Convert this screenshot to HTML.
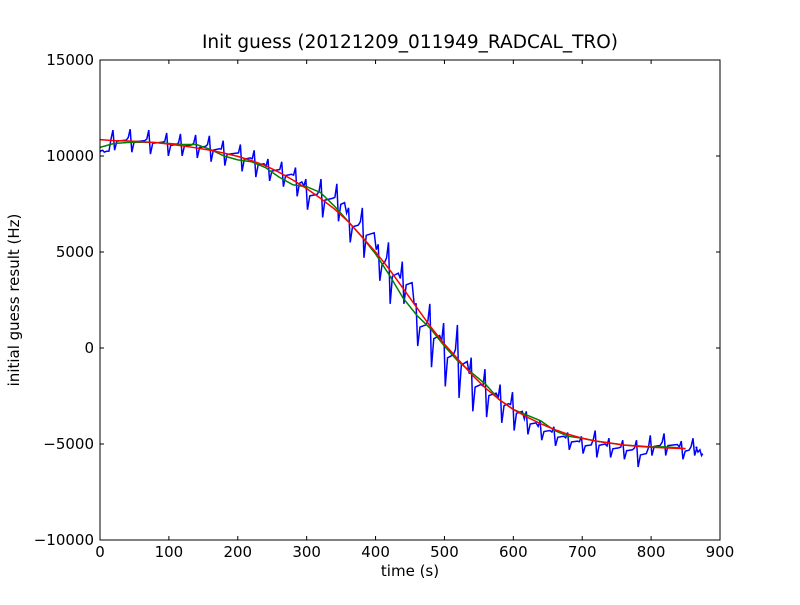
<!DOCTYPE html>
<html><head><meta charset="utf-8"><style>
body{margin:0;background:#fff;}
svg text{font-family:"DejaVu Sans","Liberation Sans",sans-serif;}
</style></head><body>
<svg id="chart" width="800" height="600" xmlns="http://www.w3.org/2000/svg">
<rect width="800" height="600" fill="#fff"/>
<text x="410" y="48" font-size="18.5" text-anchor="middle">Init guess (20121209_011949_RADCAL_TRO)</text>
<text x="410" y="576" font-size="15" text-anchor="middle">time (s)</text>
<text transform="translate(19,300) rotate(-90)" font-size="15" text-anchor="middle">initial guess result (Hz)</text>
<g id="ticks"></g>
<g id="series"></g>
<rect x="100" y="60" width="620" height="480" fill="none" stroke="#000" stroke-width="1"/>
</svg>
<script>
const xTicks=[0,100,200,300,400,500,600,700,800,900];
const yTicks=[-10000,-5000,0,5000,10000,15000];
const fitT=[0,20,40,60,80,100,120,140,160,180,200,220,240,260,280,300,320,340,360,380,400,420,440,460,480,500,520,540,560,580,600,620,640,660,680,700,720,740,760,780,800,820,840,850];
const fitV=[10850,10800,10780,10750,10700,10620,10530,10420,10300,10150,9980,9760,9500,9150,8750,8300,7800,7250,6600,5800,5000,4100,3100,2100,1100,200,-600,-1400,-2100,-2700,-3200,-3600,-3950,-4250,-4500,-4700,-4850,-4950,-5050,-5120,-5170,-5200,-5230,-5240];
const smoothV=[10450,10650,10700,10720,10700,10650,10600,10600,10350,10000,9800,9700,9400,8900,8500,8400,8100,7400,6600,5800,4900,3800,2600,1700,1000,100,-700,-1300,-1900,-2700,-3200,-3500,-3800,-4300,-4600,-4700,-4850,-4950,-5050,-5100,-5150,-5150,-5200,-5250];
const peakT=[5,20,45,72,98,118,140,160,180,205,225,245,265,285,300,322,345,362,382,405,420,440,460,480,500,520,540,560,582,600,620,640,660,680,700,720,740,760,780,800,820,845,862,872];
const peakV=[10300,11350,11400,11350,11200,11150,11100,11050,10800,10600,10300,9850,9700,9400,8800,8800,8550,7300,7300,5400,5500,4500,2300,2300,1300,1200,-500,-1100,-1900,-2300,-3300,-3800,-4100,-4400,-4600,-4300,-4700,-4800,-4800,-4550,-4450,-4850,-4700,-5300];
const lowV=[10200,10300,10200,10100,10000,10000,9900,9700,9500,9200,8900,8700,8400,7900,7200,6800,6600,5500,4700,3500,2300,2300,100,-1000,-2000,-2600,-3300,-3600,-3900,-4300,-4500,-4800,-5100,-5300,-5500,-5700,-5700,-5800,-6200,-5600,-5600,-5800,-5600,-5600];
const X0=100,W=620,Y0=60,H=480;
function xs(t){return X0+t/900*W;}
function ys(v){return Y0+(15000-v)/25000*H;}
const NS="http://www.w3.org/2000/svg";
const tg=document.getElementById('ticks');
const sg=document.getElementById('series');
function mk(tag,attrs,parent){const e=document.createElementNS(NS,tag);for(const k in attrs)e.setAttribute(k,attrs[k]);parent.appendChild(e);return e;}
xTicks.forEach(t=>{
  const x=xs(t);
  const a=mk('line',{x1:x,x2:x,y1:540,y2:536,stroke:'#000'},tg);
  
  
  const b=mk('line',{x1:x,x2:x,y1:60,y2:64,stroke:'#000'},tg);
  
  
  const l=mk('text',{x:x,y:557,'font-size':15,'text-anchor':'middle'},tg);
  l.textContent=t;
  
  
});
yTicks.forEach(v=>{
  const y=ys(v);
  const a=mk('line',{x1:100,x2:104,y1:y,y2:y,stroke:'#000'},tg);
  
  
  const b=mk('line',{x1:716,x2:720,y1:y,y2:y,stroke:'#000'},tg);
  
  
  const l=mk('text',{x:94,y:y+5,'font-size':15,'text-anchor':'end'},tg);
  l.textContent=v<0?'\u2212'+(-v):String(v);
  
  
});
let pts=[[0,10200]];
for(let i=0;i<peakT.length;i++){
  const lo=lowV[i],hi=peakV[i];
  const prevLo=i>0?lowV[i-1]:lo;
  pts.push([peakT[i]-4,prevLo+(hi-prevLo)*0.6]);
  pts.push([peakT[i]-1.2,hi]);
  pts.push([peakT[i]+1.2,lo]);
  if(i+1<peakT.length){
    const nt=peakT[i+1];
    pts.push([peakT[i]+4.5,lo+(hi-lo)*0.45]);
    pts.push([nt-7,lo+(hi-lo)*0.5]);
  }
}
pts.push([875,-5500]);
const blue=mk('polyline',{points:pts.map(p=>xs(p[0])+','+ys(p[1])).join(' '),fill:'none',stroke:'#0000ff','stroke-width':1.5},sg);


const green=mk('polyline',{points:fitT.map((t,i)=>xs(t)+','+ys(smoothV[i])).join(' '),fill:'none',stroke:'#008000','stroke-width':1.5},sg);


const red=mk('polyline',{points:fitT.map((t,i)=>xs(t)+','+ys(fitV[i])).join(' '),fill:'none',stroke:'#ff0000','stroke-width':1.5},sg);


</script>
</body></html>
